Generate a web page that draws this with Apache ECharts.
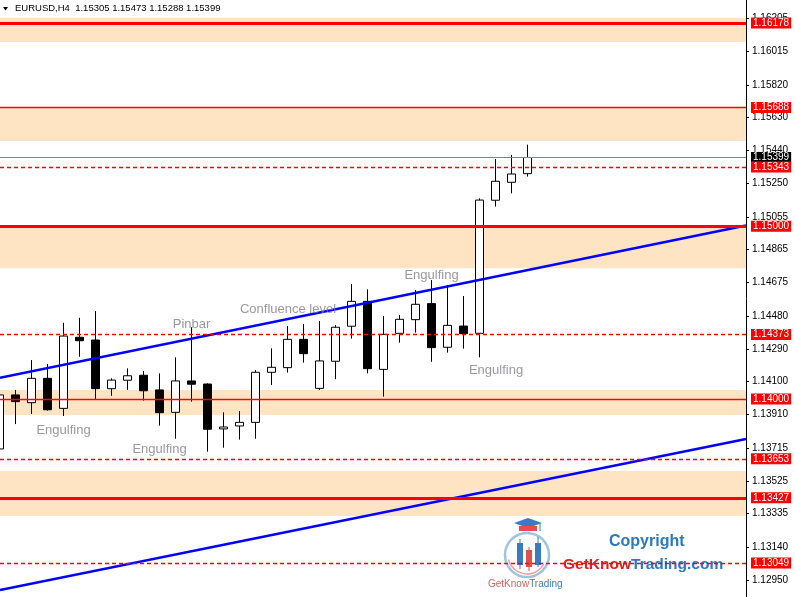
<!DOCTYPE html>
<html>
<head>
<meta charset="utf-8">
<script src="https://cdn.jsdelivr.net/npm/echarts@6/dist/echarts.min.js"></script>
<style>
html,body{margin:0;padding:0;background:#fff;}
#chart{width:795px;height:597px;}
</style>
</head>
<body>
<div id="chart"></div>
<script>
// ---- data ----
const symbolTitle = 'EURUSD,H4  1.15305 1.15473 1.15288 1.15399';
// candle index positions
const candleIdx = [0,1,2,3,4,5,6,7,8,9,10,11,12,13,14,15,16,17,18,19,20,21,22,23,24,25,26,27,28,29,30,31,32,33];
const opens  = [1.13710,1.14023,1.13978,1.14119,1.13945,1.14357,1.14341,1.14059,1.14108,1.14137,1.14052,1.13922,1.14104,1.14086,1.13826,1.13843,1.13864,1.14154,1.14181,1.14345,1.14061,1.14218,1.14421,1.14565,1.14171,1.14380,1.14459,1.14552,1.14299,1.14422,1.14380,1.15151,1.15255,1.15305];
const closes = [1.14023,1.13984,1.14119,1.13937,1.14364,1.14337,1.14059,1.14109,1.14134,1.14047,1.13920,1.14104,1.14085,1.13824,1.13837,1.13864,1.14154,1.14183,1.14345,1.14262,1.14220,1.14415,1.14565,1.14175,1.14374,1.14461,1.14548,1.14297,1.14426,1.14378,1.15152,1.15261,1.15303,1.15399];
const lows   = [1.13698,1.13854,1.13912,1.13932,1.13901,1.14244,1.13999,1.14018,1.14052,1.13990,1.13845,1.13769,1.13984,1.13694,1.13717,1.13764,1.13769,1.14080,1.14152,1.14210,1.14052,1.14114,1.14349,1.14148,1.14013,1.14326,1.14384,1.14215,1.14268,1.14291,1.14241,1.15114,1.15191,1.15288];
const highs  = [1.14034,1.14052,1.14225,1.14202,1.14441,1.14470,1.14509,1.14119,1.14177,1.14162,1.14148,1.14241,1.14415,1.14090,1.13922,1.13930,1.14167,1.14293,1.14422,1.14434,1.14451,1.14428,1.14666,1.14635,1.14480,1.14486,1.14631,1.14689,1.14660,1.14596,1.15162,1.15390,1.15413,1.15473];

const priceTicks = [1.12950,1.13140,1.13335,1.13525,1.13715,1.13910,1.14100,1.14290,1.14480,1.14675,1.14865,1.15055,1.15250,1.15440,1.15630,1.15820,1.16015,1.16205];

// support / resistance zones [top, bottom]
const zoneTops    = [1.16207,1.15691,1.15000,1.14051,1.13582];
const zoneBottoms = [1.16068,1.15494,1.14757,1.13907,1.13321];

// horizontal levels
const levelPrices = [1.16178,1.15688,1.15399,1.15343,1.15000,1.14373,1.14000,1.13653,1.13427,1.13049];
const levelKinds  = ['thick','thin','current','dashed','thick','dashed','thin','dashed','thick','dashed'];

// trend lines: [price at left edge, price at right edge]
const upperTrend = [1.14123,1.15005];
const lowerTrend = [1.12893,1.13768];

// annotations
const noteTexts  = ['Engulfing','Engulfing','Pinbar','Confluence level','Engulfing','Engulfing'];
const noteIdx    = [3.99,9.99,11.99,18.02,26.99,31.02];
const notePrices = [1.13820,1.13710,1.14434,1.14521,1.14718,1.14167];

// ---- view ----
const X_MIN = 0.01875, X_MAX = 46.64375;
const Y_MIN = 1.12852, Y_MAX = 1.163113;
const FONT = 'Liberation Sans, Arial, sans-serif';

const chart = echarts.init(document.getElementById('chart'), null, {renderer:'canvas'});

const candleData = candleIdx.map((x,i)=>[x, opens[i], closes[i], lows[i], highs[i]]);

const kindStyle = {
  thick:   {color:'#ff0000', width:3, type:'solid'},
  thin:    {color:'#ff0000', width:1.3, type:'solid'},
  dashed:  {color:'#ff0000', width:1.3, type:[4,3]},
  current: {color:'#778899', width:1.2, type:'solid'}
};

const levelData = levelPrices.map((p,i)=>[
  {
    coord:[X_MIN, p],
    lineStyle: kindStyle[levelKinds[i]],
    label: {
      backgroundColor: levelKinds[i]==='current' ? '#000000' : '#ff0000',
      formatter: p.toFixed(5)
    }
  },
  {coord:[X_MAX, p]}
]);

const zoneData = zoneTops.map((t,i)=>[{yAxis:t},{yAxis:zoneBottoms[i]}]);

const option = {
  animation:false,
  backgroundColor:'#ffffff',
  textStyle:{fontFamily:FONT},
  grid:{left:0, right:49, top:0, bottom:0, containLabel:false},
  xAxis:{type:'value', min:X_MIN, max:X_MAX, show:false},
  yAxis:{
    type:'value', position:'right', min:Y_MIN, max:Y_MAX, scale:true,
    axisLine:{show:true, lineStyle:{color:'#000', width:1}},
    axisTick:{show:true, length:3, customValues:priceTicks, lineStyle:{color:'#000'}},
    axisLabel:{show:true, customValues:priceTicks, formatter:v=>v.toFixed(5), fontSize:10, color:'#000', margin:6, fontFamily:FONT},
    splitLine:{show:false}
  },
  title:{
    text:symbolTitle, left:15, top:3, padding:0,
    textStyle:{fontSize:9.5, fontWeight:'normal', color:'#000', fontFamily:FONT}
  },
  series:[
    {
      name:'zones', type:'line', data:[], z:1, silent:true,
      markArea:{silent:true, itemStyle:{color:'#ffe4c4'}, data:zoneData}
    },
    {
      name:'EURUSD', type:'candlestick', z:2, barWidth:9, clip:true,
      itemStyle:{color:'#ffffff', color0:'#000000', borderColor:'#000000', borderColor0:'#000000', borderWidth:1},
      data:candleData
    },
    {
      name:'levels', type:'line', data:[], z:3, silent:true,
      markLine:{
        silent:true, symbol:['none','none'], precision:5,
        label:{show:true, position:'end', distance:5, color:'#fff', fontSize:10, lineHeight:11, padding:[0,2,0,2], fontFamily:FONT},
        emphasis:{disabled:true},
        data:levelData
      }
    },
    {
      name:'upper trend', type:'line', z:4, symbol:'none', silent:true,
      lineStyle:{color:'#0000ff', width:2.5},
      data:[[X_MIN, upperTrend[0]],[X_MAX, upperTrend[1]]]
    },
    {
      name:'lower trend', type:'line', z:4, symbol:'none', silent:true,
      lineStyle:{color:'#0000ff', width:2.5},
      data:[[X_MIN, lowerTrend[0]],[X_MAX, lowerTrend[1]]]
    },
    {
      name:'notes', type:'scatter', z:5, symbolSize:0, silent:true,
      label:{show:true, position:'inside', color:'#808088', fontSize:13, formatter:p=>noteTexts[p.dataIndex], fontFamily:FONT},
      data:noteIdx.map((x,i)=>[x, notePrices[i]])
    }
  ],
  graphic:[
    // menu triangle next to symbol
    {type:'polygon', shape:{points:[[3,7],[8,7],[5.5,10.5]]}, style:{fill:'#000'}, z:10},
    // logo block
    {type:'group', left:488, top:517, z:20, children:[
      {type:'rect', shape:{x:0,y:0,width:257,height:80}, style:{fill:'#fff'}},
      {type:'circle', shape:{cx:35, cy:38, r:22}, style:{fill:'none', stroke:'#9cc6e0', lineWidth:2.5}},
      {type:'arc', shape:{cx:35, cy:38, r:19, startAngle:0.5, endAngle:2.9}, style:{fill:'none', stroke:'#f0a0a0', lineWidth:1.5}},
      // mini candles
      {type:'line', shape:{x1:28,y1:22,x2:28,y2:52}, style:{stroke:'#3a7cc0', lineWidth:1}},
      {type:'rect', shape:{x:25,y:26,width:6,height:22}, style:{fill:'#3a7cc0'}},
      {type:'line', shape:{x1:37,y1:30,x2:37,y2:54}, style:{stroke:'#e05050', lineWidth:1}},
      {type:'rect', shape:{x:34,y:33,width:6,height:17}, style:{fill:'#e05050'}},
      {type:'line', shape:{x1:46,y1:20,x2:46,y2:50}, style:{stroke:'#3a7cc0', lineWidth:1}},
      {type:'rect', shape:{x:43,y:26,width:6,height:22}, style:{fill:'#3a7cc0'}},
      // cap
      {type:'polygon', shape:{points:[[22,6],[36,1],[50,6],[36,11]]}, style:{fill:'#3a7cc0'}},
      {type:'polygon', shape:{points:[[27,9],[45,9],[45,14],[27,14]]}, style:{fill:'#e05050'}},
      {type:'line', shape:{x1:48,y1:6,x2:48,y2:14}, style:{stroke:'#3a7cc0', lineWidth:1}},
      {type:'text', style:{x:-4, y:62, text:'{a|GetKnow}{b|Trading}', fontFamily:FONT,
        rich:{a:{fill:'#e06060', fontSize:10, fontFamily:FONT}, b:{fill:'#3a7cc0', fontSize:10, fontFamily:FONT}}}},
      {type:'text', style:{x:117, y:17, text:'Copyright', fill:'#2a7ac0', fontSize:16, fontWeight:'bold', fontFamily:FONT}},
      {type:'text', style:{x:71, y:40, text:'{a|GetKnow}{b|Trading.com}', fontFamily:FONT,
        rich:{a:{fill:'#e0201c', fontSize:15.5, fontWeight:'bold', fontFamily:FONT}, b:{fill:'#2a7ac0', fontSize:15.5, fontWeight:'bold', fontFamily:FONT}}}}
    ]}
  ]
};
chart.setOption(option);
</script>
</body>
</html>
